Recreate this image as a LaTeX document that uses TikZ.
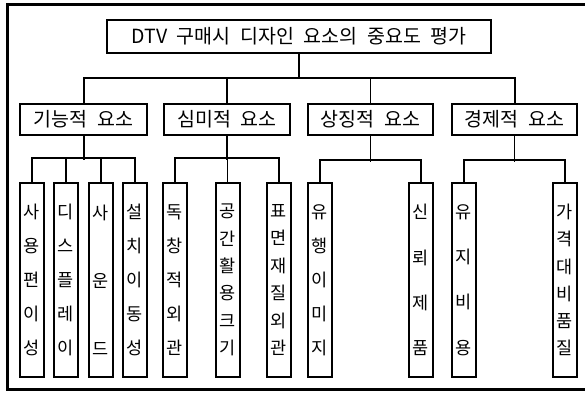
\documentclass[tikz,border=0pt]{standalone}
\usepackage{fontspec}
\setmainfont[WordSpace=2.2]{Noto Sans CJK KR}
\newcommand\vstack[1]{\parbox[c][150pt][s]{22pt}{\centering #1}}
\tikzset{
  box/.style={draw, line width=2pt, inner sep=0pt, font=\fontsize{19.5}{22}\selectfont},
  leaf/.style={draw, line width=2pt, inner sep=0pt, minimum width=24pt, minimum height=194pt, font=\fontsize{17.5}{19}\selectfont},
  conn/.style={line width=2pt},
  thinconn/.style={line width=1.2pt}
}
\begin{document}
\begin{tikzpicture}[x=1pt,y=-1pt]
\useasboundingbox (0,0) rectangle (585,392);
\fill[white] (0,0) rectangle (585,392);
\begin{scope}
\clip (0,0) rectangle (585,392);
\draw[line width=3.8pt] (7.5,4.5) rectangle (600,389.5);
\end{scope}
% top
\node[box, minimum width=384pt, minimum height=33pt] (top) at (299,36.5) {DTV 구매시 디자인 요소의 중요도 평가};
% level 1
\node[box, minimum width=127pt, minimum height=31pt] (fa) at (83.5,119) {기능적 요소};
\node[box, minimum width=126pt, minimum height=31pt] (fb) at (227,119) {심미적 요소};
\node[box, minimum width=125pt, minimum height=31pt] (fc) at (370.5,119) {상징적 요소};
\node[box, minimum width=125pt, minimum height=31pt] (fd) at (514.5,119) {경제적 요소};
% level 2
\node[leaf] (a1) at (31.5,280) {\vstack{사\vfill 용\vfill 편\vfill 이\vfill 성}};
\node[leaf] (a2) at (66,280) {\vstack{디\vfill 스\vfill 플\vfill 레\vfill 이}};
\node[leaf] (a3) at (101,280) {\vstack{사\vfill 운\vfill 드}};
\node[leaf] (a4) at (134.5,280) {\vstack{설\vfill 치\vfill 이\vfill 동\vfill 성}};
\node[leaf] (b1) at (175,280) {\vstack{독\vfill 창\vfill 적\vfill 외\vfill 관}};
\node[leaf] (b2) at (227.5,280) {\vstack{공\vfill 간\vfill 활\vfill 용\vfill 크\vfill 기}};
\node[leaf] (b3) at (278.5,280) {\vstack{표\vfill 면\vfill 재\vfill 질\vfill 외\vfill 관}};
\node[leaf] (c1) at (320,280) {\vstack{유\vfill 행\vfill 이\vfill 미\vfill 지}};
\node[leaf] (c2) at (421,280) {\vstack{신\vfill 뢰\vfill 제\vfill 품}};
\node[leaf] (d1) at (464,280) {\vstack{유\vfill 지\vfill 비\vfill 용}};
\node[leaf] (d2) at (565,280) {\vstack{가\vfill 격\vfill 대\vfill 비\vfill 품\vfill 질}};
% connectors level 0 -> 1
\coordinate (bus0) at (299,77.5);
\draw[conn] (top.south) -- (bus0);
\draw[conn] (fa.north) |- (bus0);
\draw[conn] (fd.north) |- (bus0);
\draw[thinconn] (fb.north) -- (fb.north |- bus0);
\draw[thinconn] (fc.north) -- (fc.north |- bus0);
% level 1 -> 2
\draw[conn] (a1.north) -- ++(0,-24) -| (a4.north);
\draw[conn] (a2.north) -- ++(0,-24);
\draw[conn] (a3.north) -- ++(0,-24);
\draw[conn] (fa.south) -- ++(0,24.5);
\draw[conn] (b1.north) -- ++(0,-24) -| (b3.north);
\draw[thinconn] (b2.north) -- ++(0,-24);
\draw[thinconn] (fb.south) -- ++(0,24.5);
\draw[conn] (c1.north) -- ++(0,-22) -| (c2.north);
\draw[thinconn] (fc.south) -- ++(0,26.5);
\draw[conn] (d1.north) -- ++(0,-22) -| (d2.north);
\draw[thinconn] (fd.south) -- ++(0,26.5);
\end{tikzpicture}
\end{document}
